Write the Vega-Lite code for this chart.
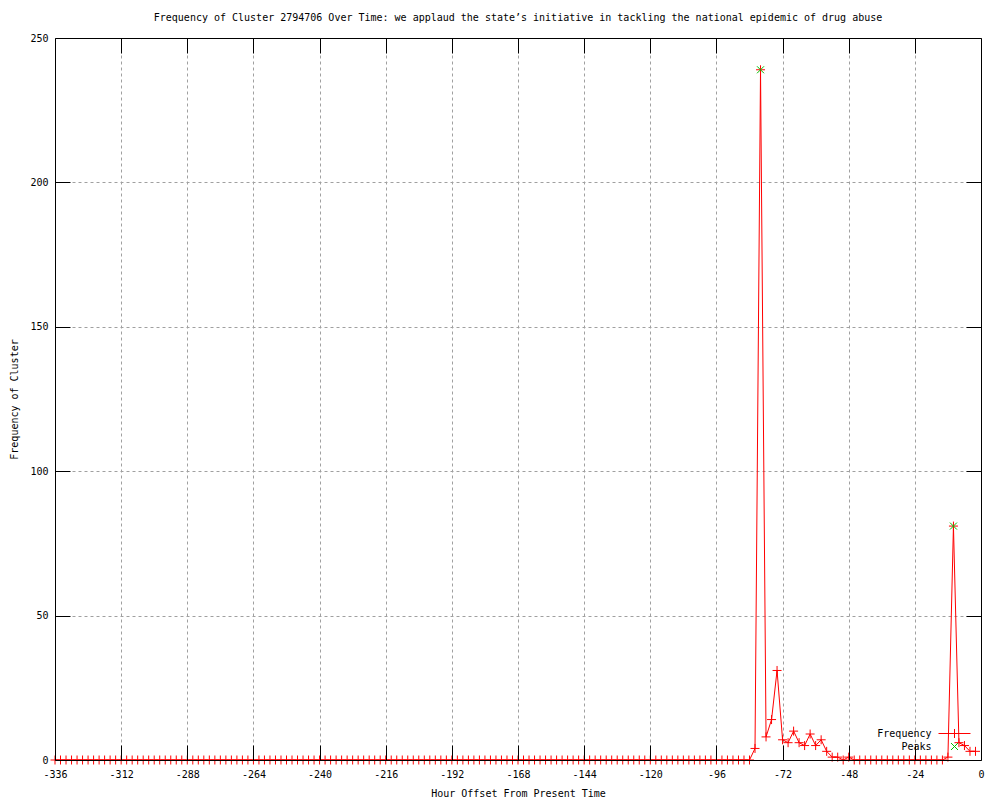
{
  "$schema": "https://vega.github.io/schema/vega-lite/v6.json",
  "width": 926,
  "height": 722,
  "autosize": {"type": "none"},
  "padding": {"left": 55, "top": 38, "right": 19, "bottom": 40},
  "background": "white",
  "config": {
    "view": {"stroke": "black", "strokeWidth": 1},
    "font": "DejaVu Sans Mono",
    "axis": {
      "labelFont": "DejaVu Sans Mono",
      "labelFontSize": 10,
      "labelColor": "black",
      "titleFont": "DejaVu Sans Mono",
      "titleFontSize": 10,
      "titleFontWeight": "normal",
      "titleColor": "black",
      "domainColor": "black",
      "tickColor": "black",
      "gridColor": "#a0a0a0",
      "gridDash": [3, 3],
      "gridWidth": 1,
      "gridOpacity": 1
    },
    "legend": {
      "orient": "none",
      "legendX": 894.5,
      "labelFont": "DejaVu Sans Mono",
      "labelFontSize": 10,
      "labelColor": "black",
      "labelAlign": "right",
      "labelOffset": -28,
      "symbolSize": 49,
      "symbolStrokeWidth": 1,
      "symbolOpacity": 1,
      "symbolFillColor": "transparent",
      "rowPadding": 0,
      "padding": 0
    }
  },
  "title": {
    "text": "Frequency of Cluster 2794706 Over Time: we applaud the state’s initiative in tackling the national epidemic of drug abuse",
    "font": "DejaVu Sans Mono",
    "fontSize": 10,
    "fontWeight": "normal",
    "color": "black",
    "offset": 10
  },
  "datasets": {
    "freq": [
      {"h": -336, "v": 0}, {"h": -334, "v": 0}, {"h": -332, "v": 0}, {"h": -330, "v": 0}, {"h": -328, "v": 0}, {"h": -326, "v": 0}, {"h": -324, "v": 0}, {"h": -322, "v": 0},
      {"h": -320, "v": 0}, {"h": -318, "v": 0}, {"h": -316, "v": 0}, {"h": -314, "v": 0}, {"h": -312, "v": 0}, {"h": -310, "v": 0}, {"h": -308, "v": 0}, {"h": -306, "v": 0},
      {"h": -304, "v": 0}, {"h": -302, "v": 0}, {"h": -300, "v": 0}, {"h": -298, "v": 0}, {"h": -296, "v": 0}, {"h": -294, "v": 0}, {"h": -292, "v": 0}, {"h": -290, "v": 0},
      {"h": -288, "v": 0}, {"h": -286, "v": 0}, {"h": -284, "v": 0}, {"h": -282, "v": 0}, {"h": -280, "v": 0}, {"h": -278, "v": 0}, {"h": -276, "v": 0}, {"h": -274, "v": 0},
      {"h": -272, "v": 0}, {"h": -270, "v": 0}, {"h": -268, "v": 0}, {"h": -266, "v": 0}, {"h": -264, "v": 0}, {"h": -262, "v": 0}, {"h": -260, "v": 0}, {"h": -258, "v": 0},
      {"h": -256, "v": 0}, {"h": -254, "v": 0}, {"h": -252, "v": 0}, {"h": -250, "v": 0}, {"h": -248, "v": 0}, {"h": -246, "v": 0}, {"h": -244, "v": 0}, {"h": -242, "v": 0},
      {"h": -240, "v": 0}, {"h": -238, "v": 0}, {"h": -236, "v": 0}, {"h": -234, "v": 0}, {"h": -232, "v": 0}, {"h": -230, "v": 0}, {"h": -228, "v": 0}, {"h": -226, "v": 0},
      {"h": -224, "v": 0}, {"h": -222, "v": 0}, {"h": -220, "v": 0}, {"h": -218, "v": 0}, {"h": -216, "v": 0}, {"h": -214, "v": 0}, {"h": -212, "v": 0}, {"h": -210, "v": 0},
      {"h": -208, "v": 0}, {"h": -206, "v": 0}, {"h": -204, "v": 0}, {"h": -202, "v": 0}, {"h": -200, "v": 0}, {"h": -198, "v": 0}, {"h": -196, "v": 0}, {"h": -194, "v": 0},
      {"h": -192, "v": 0}, {"h": -190, "v": 0}, {"h": -188, "v": 0}, {"h": -186, "v": 0}, {"h": -184, "v": 0}, {"h": -182, "v": 0}, {"h": -180, "v": 0}, {"h": -178, "v": 0},
      {"h": -176, "v": 0}, {"h": -174, "v": 0}, {"h": -172, "v": 0}, {"h": -170, "v": 0}, {"h": -168, "v": 0}, {"h": -166, "v": 0}, {"h": -164, "v": 0}, {"h": -162, "v": 0},
      {"h": -160, "v": 0}, {"h": -158, "v": 0}, {"h": -156, "v": 0}, {"h": -154, "v": 0}, {"h": -152, "v": 0}, {"h": -150, "v": 0}, {"h": -148, "v": 0}, {"h": -146, "v": 0},
      {"h": -144, "v": 0}, {"h": -142, "v": 0}, {"h": -140, "v": 0}, {"h": -138, "v": 0}, {"h": -136, "v": 0}, {"h": -134, "v": 0}, {"h": -132, "v": 0}, {"h": -130, "v": 0},
      {"h": -128, "v": 0}, {"h": -126, "v": 0}, {"h": -124, "v": 0}, {"h": -122, "v": 0}, {"h": -120, "v": 0}, {"h": -118, "v": 0}, {"h": -116, "v": 0}, {"h": -114, "v": 0},
      {"h": -112, "v": 0}, {"h": -110, "v": 0}, {"h": -108, "v": 0}, {"h": -106, "v": 0}, {"h": -104, "v": 0}, {"h": -102, "v": 0}, {"h": -100, "v": 0}, {"h": -98, "v": 0},
      {"h": -96, "v": 0}, {"h": -94, "v": 0}, {"h": -92, "v": 0}, {"h": -90, "v": 0}, {"h": -88, "v": 0}, {"h": -86, "v": 0}, {"h": -84, "v": 0},
      {"h": -82, "v": 4}, {"h": -80, "v": 239}, {"h": -78, "v": 8}, {"h": -76, "v": 14}, {"h": -74, "v": 31}, {"h": -72, "v": 7}, {"h": -70, "v": 6}, {"h": -68, "v": 10},
      {"h": -66, "v": 6}, {"h": -64, "v": 5}, {"h": -62, "v": 9}, {"h": -60, "v": 5}, {"h": -58, "v": 7}, {"h": -56, "v": 3}, {"h": -54, "v": 1}, {"h": -52, "v": 1},
      {"h": -50, "v": 0}, {"h": -48, "v": 1},
      {"h": -46, "v": 0}, {"h": -44, "v": 0}, {"h": -42, "v": 0}, {"h": -40, "v": 0}, {"h": -38, "v": 0}, {"h": -36, "v": 0}, {"h": -34, "v": 0}, {"h": -32, "v": 0},
      {"h": -30, "v": 0}, {"h": -28, "v": 0}, {"h": -26, "v": 0}, {"h": -24, "v": 0}, {"h": -22, "v": 0}, {"h": -20, "v": 0}, {"h": -18, "v": 0}, {"h": -16, "v": 0},
      {"h": -14, "v": 0},
      {"h": -12, "v": 1}, {"h": -10, "v": 81}, {"h": -8, "v": 6}, {"h": -6, "v": 5}, {"h": -4, "v": 3}, {"h": -2, "v": 3}
    ],
    "peaks": [
      {"h": -80, "v": 239},
      {"h": -10, "v": 81}
    ]
  },
  "layer": [
    {
      "data": {"name": "freq"},
      "mark": {"type": "line", "color": "#ff0000", "strokeWidth": 1, "clip": false},
      "encoding": {
        "x": {
          "field": "h", "type": "quantitative",
          "scale": {"domain": [-336, 0], "nice": false, "zero": false},
          "axis": {
            "orient": "bottom", "zindex": 1, "grid": false, "ticks": false, "domain": true,
            "values": [-336, -312, -288, -264, -240, -216, -192, -168, -144, -120, -96, -72, -48, -24, 0],
            "labelExpr": "'' + datum.value",
            "labelPadding": 9, "labelFlush": false,
            "title": "Hour Offset From Present Time", "titlePadding": 9
          }
        },
        "y": {
          "field": "v", "type": "quantitative",
          "scale": {"domain": [0, 250], "nice": false},
          "axis": {
            "orient": "left", "zindex": 1, "grid": false, "ticks": false, "domain": true,
            "values": [0, 50, 100, 150, 200, 250],
            "labelPadding": 7, "labelFlush": false,
            "title": "Frequency of Cluster", "titlePadding": 10
          }
        }
      }
    },
    {
      "data": {"name": "freq"},
      "mark": {"type": "point", "shape": "M-1,0H1M0,-1V1", "filled": false, "size": 81, "strokeWidth": 1, "opacity": 1, "color": "#ff0000", "clip": false},
      "encoding": {
        "x": {
          "field": "h", "type": "quantitative",
          "axis": {
            "orient": "top", "zindex": 0, "grid": true, "ticks": false, "labels": false, "domain": true, "title": null,
            "values": [-336, -312, -288, -264, -240, -216, -192, -168, -144, -120, -96, -72, -48, -24, 0]
          }
        },
        "y": {
          "field": "v", "type": "quantitative",
          "axis": {
            "orient": "right", "zindex": 0, "grid": true, "ticks": false, "labels": false, "domain": true, "title": null,
            "values": [0, 50, 100, 150, 200, 250]
          }
        }
      }
    },
    {
      "data": {"name": "peaks"},
      "mark": {"type": "point", "shape": "M-4.57,0L4.57,0M0,-1.29L0,1.29", "filled": false, "opacity": 0, "size": 1},
      "encoding": {
        "x": {
          "field": "h", "type": "quantitative",
          "axis": {
            "orient": "bottom", "offset": -722, "zindex": 1, "grid": false, "ticks": true, "tickSize": 15,
            "labels": false, "domain": false, "title": null,
            "values": [-312, -288, -264, -240, -216, -192, -168, -144, -120, -96, -72, -48, -24]
          }
        },
        "y": {
          "field": "v", "type": "quantitative",
          "axis": {
            "orient": "left", "offset": -926, "zindex": 1, "grid": false, "ticks": true, "tickSize": 15,
            "labels": false, "domain": false, "title": null,
            "values": [50, 100, 150, 200]
          }
        },
        "color": {
          "datum": "Frequency",
          "scale": {"domain": ["Frequency"], "range": ["#ff0000"]},
          "legend": {
            "title": null,
            "legendY": 690.5,
            "symbolType": "M-4.57,0L4.57,0M0,-1.29L0,1.29",
            "symbolStrokeColor": "#ff0000"
          }
        }
      }
    },
    {
      "data": {"name": "peaks"},
      "mark": {"type": "point", "shape": "M-1,-1L1,1M-1,1L1,-1", "color": "#00c000", "filled": false, "size": 49, "strokeWidth": 1, "opacity": 1, "clip": false},
      "encoding": {
        "x": {
          "field": "h", "type": "quantitative",
          "axis": {
            "orient": "top", "offset": -722, "zindex": 1, "grid": false, "ticks": true, "tickSize": 15,
            "labels": false, "domain": false, "title": null,
            "values": [-312, -288, -264, -240, -216, -192, -168, -144, -120, -96, -72, -48, -24]
          }
        },
        "y": {
          "field": "v", "type": "quantitative",
          "axis": {
            "orient": "right", "offset": -926, "zindex": 1, "grid": false, "ticks": true, "tickSize": 15,
            "labels": false, "domain": false, "title": null,
            "values": [50, 100, 150, 200]
          }
        },
        "shape": {
          "datum": "Peaks",
          "scale": {"domain": ["Peaks"], "range": ["M-1,-1L1,1M-1,1L1,-1"]},
          "legend": {
            "title": null,
            "legendY": 703.5,
            "symbolStrokeColor": "#00c000"
          }
        }
      }
    }
  ]
}
